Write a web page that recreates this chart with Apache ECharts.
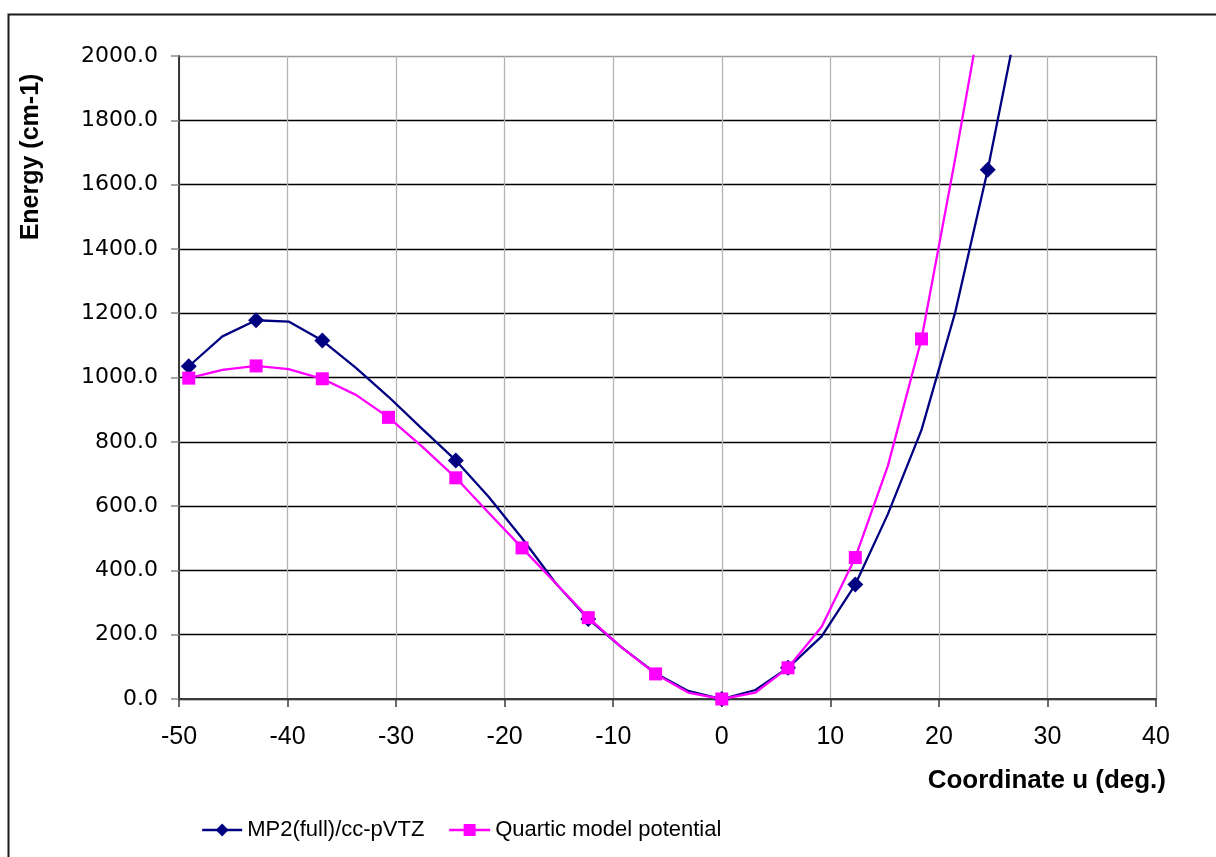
<!DOCTYPE html>
<html>
<head>
<meta charset="utf-8">
<script src="https://cdn.jsdelivr.net/npm/echarts@6/dist/echarts.min.js"></script>
<style>
  html, body { margin: 0; padding: 0; background: #fff; }
  #chart { width: 1216px; height: 857px; }
</style>
</head>
<body>
<div id="chart"></div>
<script>
// Coordinate u (deg.)
const coordU = [-49.1, -46.0, -42.9, -39.9, -36.8, -33.7, -30.7, -27.6, -24.5, -21.5, -18.4, -15.3, -12.3,
                -9.2, -6.1, -3.1, 0, 3.1, 6.1, 9.2, 12.3, 15.3, 18.4, 21.5, 24.5, 27.6];
// Energy (cm-1)
const mp2Energy = [1035, 1128, 1178, 1174, 1115, 1030, 940, 840, 742, 630, 500, 360, 249,
                   160, 80, 25, 0, 28, 97, 195, 356, 575, 837, 1202, 1646, 2170];
const quarticEnergy = [998, 1024, 1036, 1026, 996, 946, 876, 785, 688, 580, 470, 360, 253,
                       160, 78, 20, 0, 20, 97, 225, 440, 725, 1120, 1680, 2250, null];
// which points carry a marker (1) in the reference
const mp2Marked = [1, 0, 1, 0, 1, 0, 0, 0, 1, 0, 0, 0, 1, 0, 0, 0, 1, 0, 1, 0, 1, 0, 0, 0, 1, 0];
const quarticMarked = [1, 0, 1, 0, 1, 0, 1, 0, 1, 0, 1, 0, 1, 0, 1, 0, 1, 0, 1, 0, 1, 0, 1, 0, 0, 0];
const seriesNames = ['MP2(full)/cc-pVTZ', 'Quartic model potential'];
const xTicks = { min: -50, max: 40, step: 10 };
const yTicks = { min: 0, max: 2000, step: 200 };

function build(values, marks, sym) {
  return coordU.map((x, i) => ({
    value: [x, values[i]],
    symbol: marks[i] ? sym : 'none'
  }));
}

const chart = echarts.init(document.getElementById('chart'), null, { renderer: 'canvas' });

const ySplitColors = [];
for (let v = yTicks.min; v <= yTicks.max; v += yTicks.step) ySplitColors.push(v === yTicks.max ? '#9a9a9a' : '#000000');
const xSplitColors = [];
for (let v = xTicks.min; v <= xTicks.max; v += xTicks.step) xSplitColors.push(v === xTicks.max ? '#8a8a8a' : '#b4b4b4');

const legendText = { fontFamily: "'Liberation Sans', Arial, sans-serif", fontSize: 22, color: '#000' };

chart.setOption({
  animation: false,
  backgroundColor: '#fff',
  grid: { left: 179, right: 60, top: 56, bottom: 158, containLabel: false },
  xAxis: {
    type: 'value',
    min: xTicks.min, max: xTicks.max, interval: xTicks.step,
    axisLine: { show: true, onZero: false, lineStyle: { color: '#3a3a3a', width: 2 } },
    axisTick: { show: true, inside: false, length: 8, lineStyle: { color: '#3a3a3a', width: 1.5 } },
    axisLabel: { margin: 26, color: '#000', fontFamily: "'Liberation Sans', Arial, sans-serif", fontSize: 25 },
    splitLine: { show: true, lineStyle: { color: xSplitColors, width: 1.3 } }
  },
  yAxis: {
    type: 'value',
    min: yTicks.min, max: yTicks.max, interval: yTicks.step,
    axisLine: { show: true, onZero: false, lineStyle: { color: '#3a3a3a', width: 2 } },
    axisTick: { show: true, inside: false, length: 8, lineStyle: { color: '#8a8a8a', width: 1.5 } },
    axisLabel: { margin: 21, color: '#000', fontFamily: "'DejaVu Sans', sans-serif", fontSize: 22,
                 formatter: v => v.toFixed(1) },
    splitLine: { show: true, lineStyle: { color: ySplitColors, width: 1.3 } }
  },
  legend: [
    { data: [seriesNames[0]], left: 196, top: 814, itemWidth: 40, itemHeight: 16, itemGap: 0, itemTextGap: 6,
      itemStyle: { borderWidth: 0 }, lineStyle: { width: 2.3 }, textStyle: legendText },
    { data: [seriesNames[1]], left: 443, top: 814, itemWidth: 41, itemHeight: 15, itemGap: 0, itemTextGap: 6,
      itemStyle: { borderWidth: 0 }, lineStyle: { width: 2.3 }, textStyle: legendText }
  ],
  graphic: [
    { type: 'rect', silent: true, z: -10,
      shape: { x: 8.5, y: 14.5, width: 1230, height: 900 },
      style: { fill: 'none', stroke: '#1a1a1a', lineWidth: 2 } },
    { type: 'text', x: 31, y: 157, rotation: Math.PI / 2,
      style: { text: 'Energy (cm-1)', fill: '#000', font: "bold 25px 'Liberation Sans', Arial, sans-serif",
               textAlign: 'center', textVerticalAlign: 'middle' } },
    { type: 'text', x: 1166, y: 781,
      style: { text: 'Coordinate u (deg.)', fill: '#000', font: "bold 26px 'Liberation Sans', Arial, sans-serif",
               textAlign: 'right', textVerticalAlign: 'middle' } }
  ],
  series: [
    {
      name: seriesNames[0], type: 'line', symbol: 'diamond', symbolSize: 16, showSymbol: true,
      clip: true, smooth: false,
      lineStyle: { color: '#000080', width: 2.3 },
      itemStyle: { color: '#000080', borderWidth: 0 },
      data: build(mp2Energy, mp2Marked, 'diamond'), z: 2
    },
    {
      name: seriesNames[1], type: 'line', symbol: 'rect', symbolSize: 13, showSymbol: true,
      clip: true, smooth: false,
      lineStyle: { color: '#ff00ff', width: 2.3 },
      itemStyle: { color: '#ff00ff', borderWidth: 0 },
      data: build(quarticEnergy, quarticMarked, 'rect'), z: 3
    }
  ]
});
</script>
</body>
</html>
